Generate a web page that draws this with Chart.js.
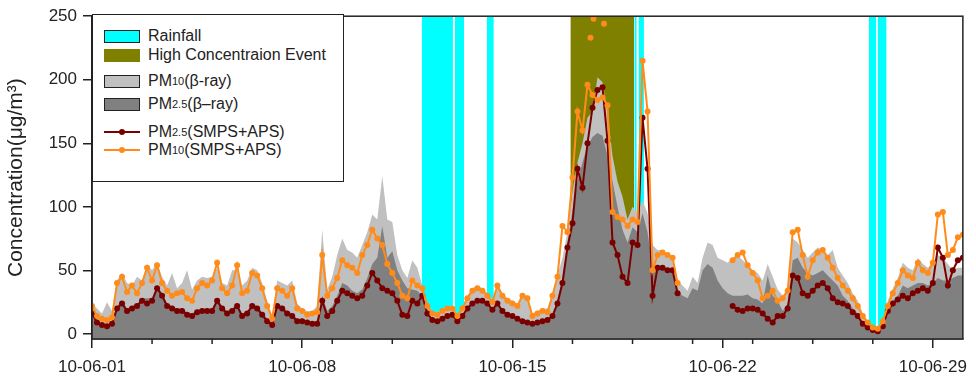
<!DOCTYPE html>
<html>
<head>
<meta charset="utf-8">
<script src="https://cdn.jsdelivr.net/npm/chart.js@4.4.0/dist/chart.umd.min.js"></script>
<style>
  body { margin: 0; background: #fff; }
  #wrap { position: relative; width: 976px; height: 378px; }
  #legend {
    position: absolute; left: 92px; top: 14px; width: 252px; height: 168px;
    box-sizing: border-box; border: 1.5px solid #222; background: #fff;
    font-family: "Liberation Sans", Arial, sans-serif; font-size: 16px; color: #222;
  }
  .item { position: absolute; left: 11px; height: 20px; display: flex; align-items: center; white-space: nowrap; }
  .sw { width: 36px; height: 13px; box-sizing: border-box; margin-right: 8px; }
  .ln { position: relative; width: 36px; height: 2px; margin-right: 8px; }
  .ln::after { content: ""; position: absolute; left: 15px; top: -2px; width: 6px; height: 6px; border-radius: 50%; background: inherit; }
  sub { font-size: 11px; vertical-align: -5px; line-height: 0; }
</style>
</head>
<body>
<div id="wrap">
  <canvas id="myChart" width="976" height="378"></canvas>
  <div id="legend">
    <div class="item" style="top:11px"><span class="sw" style="background:#00ffff;border:1px solid #222"></span>Rainfall</div>
    <div class="item" style="top:30px"><span class="sw" style="background:#808000"></span>High Concentraion Event</div>
    <div class="item" style="top:56px"><span class="sw" style="background:#c0c0c0;border:1px solid #222"></span>PM <sub>10</sub>(β-ray)</div>
    <div class="item" style="top:79px"><span class="sw" style="background:#808080;border:1px solid #222"></span>PM <sub>2.5</sub>(β–ray)</div>
    <div class="item" style="top:107px"><span class="ln" style="background:#7a0000"></span>PM <sub>2.5</sub>(SMPS+APS)</div>
    <div class="item" style="top:125px"><span class="ln" style="background:#ff8c1a"></span>PM <sub>10</sub>(SMPS+APS)</div>
  </div>
</div>
<script>
// values every 4 hours from 10-06-01 00:00, one row per day
const pm10Beta = [
  24, 20, 16, 25, 18, 42,
  48, 40, 38, 45, 42, 55,
  50, 56, 45, 38, 48, 36,
  40, 50, 35, 42, 45, 44,
  45, 52, 40, 38, 50, 50,
  38, 42, 52, 50, 40, 26,
  14, 42, 40, 38, 42, 24,
  20, 18, 18, 22, 82, 35,
  45, 62, 75, 66, 64, 60,
  70, 80, 94, 90, 124, 90,
  88, 62, 50, 44, 58, 52,
  38, 24, 18, 17, 20, 22,
  22, 15, 22, 30, 36, 38,
  36, 32, 27, 40, 32, 28,
  26, 24, 32, 30, 16, 18,
  20, 20, 32, 46, 60, 80,
  112, 135, 150, 170, 175, 202,
  198, 175, 140, 120, 108, 90,
  100, 95, 105, 95, 70, 66,
  66, 62, 58, 42, 38, 34,
  45, 40, 60, 72, 70, 60,
  58, 56, 60, 62, 58, 55,
  50, 48, 42, 55, 45, 35,
  30, 36, 75, 72, 66, 60,
  64, 68, 66, 62, 66, 52,
  46, 40, 32, 26, 16, 10,
  6, 5, 12, 26, 36, 44,
  56, 52, 50, 60, 55, 52,
  56, 62, 60, 55, 50, 52,
  52
];
const pm25Beta = [
  16, 10, 8, 7, 9, 22,
  26, 20, 22, 24, 28, 28,
  28, 38, 32, 24, 22, 20,
  20, 17, 16, 19, 20, 20,
  20, 28, 22, 18, 20, 24,
  16, 18, 24, 22, 17, 12,
  9, 24, 22, 18, 16, 12,
  12, 10, 10, 10, 30, 18,
  22, 30, 40, 38, 34, 32,
  35, 44, 55, 60, 85, 60,
  65, 50, 42, 36, 35, 34,
  30, 17, 12, 11, 13, 15,
  16, 11, 15, 21, 25, 27,
  27, 25, 20, 25, 19, 16,
  15, 13, 11, 10, 9, 10,
  11, 12, 15, 26, 45, 72,
  97, 120, 135, 148, 155, 158,
  156, 140, 120, 100, 82, 72,
  84, 80, 95, 80, 54, 52,
  52, 50, 48, 34, 30, 28,
  36, 34, 50, 55, 52, 42,
  36, 32, 30, 30, 30, 31,
  28, 27, 24, 46, 30, 26,
  18, 24, 58, 60, 52, 48,
  46, 48, 50, 46, 42, 38,
  30, 26, 20, 16, 9, 6,
  4, 3, 8, 20, 26, 30,
  38, 36, 38, 40, 40, 38,
  40, 44, 42, 42, 44, 46,
  46
];
const pm25Smps = [
  16, 9, 7, 6, 8, 20,
  24, 18, 20, 22, 26, 24,
  26, 36, 30, 22, 20, 18,
  18, 15, 14, 17, 18, 18,
  18, 26, 20, 16, 18, 22,
  14, 16, 22, 20, 15, 10,
  7, 22, 20, 16, 14, 10,
  10, 9, 8, 8, 26, 14,
  18, 26, 34, 32, 30, 28,
  30, 38, 48, 42, 36, 34,
  32, 26, 15, 14, 26, 24,
  30, 16, 11, 10, 12, 14,
  15, 10, 14, 20, 24, 26,
  26, 24, 19, 24, 18, 15,
  14, 12, 10, 9, 8, 9,
  10, 11, 14, 24, 40, 68,
  87, 130, 115, 150, 178, 192,
  194, 152, 72, 62, 45, 40,
  72, 70, 170, 130, 30, 52,
  52, 50, 50, 32, null, null,
  null, null, null, null, null, null,
  null, null, 22, 19, 18, 20,
  20, 19, 16, 12, 9, 14,
  14, 20, 46, 44, 32, 30,
  34, 38, 40, 36, 28, 25,
  24, 22, 17, 14, 8, 5,
  3, 2, 6, 18, 24, 27,
  30, 28, 32, 34, 36, 34,
  40, 68, 60, 38, 50, 58,
  60
];
const pm10Smps = [
  22, 14, 12, 11, 13, 40,
  45, 33, 38, 32, 40, 52,
  42, 54, 40, 34, 30, 32,
  33, 28, 26, 36, 40, 38,
  42, 56, 36, 32, 38, 54,
  32, 34, 48, 46, 36, 22,
  12, 36, 34, 30, 36, 20,
  18, 15, 16, 17, 62, 30,
  36, 44, 58, 54, 52, 48,
  62, 70, 82, 75, 70, 55,
  48, 40, 30, 28, 42, 38,
  36, 22, 16, 15, 18, 20,
  20, 14, 20, 28, 34, 36,
  34, 30, 25, 38, 30, 26,
  24, 22, 30, 28, 14, 16,
  18, 17, 30, 45, 85, 80,
  123, 175, 160, 196, 188, 184,
  186, 180, 96, 92, 90, 85,
  90, 88, 215, 175, 50, 62,
  64, 62, 60, 40, null, null,
  null, null, null, null, null, null,
  null, null, 58, 62, 64, 54,
  48, 42, 28, 30, 34, 26,
  28, 34, 80, 82, 62, 45,
  58, 64, 66, 60, 52, 44,
  38, 34, 28, 22, 14, 9,
  5, 4, 10, 22, 32, 40,
  50, 46, 44, 56, 50, 48,
  56, 94, 96, 62, 66, 76,
  78
];
// isolated PM10 readings at the top of the event
const pm10PeakDay = [16.6, 16.7, 17.05];
const pm10PeakVal = [233, 248, 244];

// shaded periods, in days after 10-06-01
const rainStart = [10.98, 12.08, 13.15, 18.06, 18.2, 25.87, 26.16];
const rainEnd = [12.02, 12.39, 13.38, 18.14, 18.38, 26.11, 26.46];
const eventStart = [15.93];
const eventEnd = [18.05];

const xMajor = [0, 7, 14, 21, 28];
const xLabels = ["10-06-01", "10-06-08", "10-06-15", "10-06-22", "10-06-29"];
const xMinor = [2, 4, 6, 8, 10, 12, 16, 18, 20, 22, 24, 26];
const yTicks = [0, 50, 100, 150, 200, 250];

function serie(vals) {
    return vals.map((v, i) => ({ x: i / 6, y: v }));
}

function bandas(starts, ends) {
    const pts = [];
    starts.forEach((s, i) => {
        pts.push({ x: s, y: 250 }, { x: ends[i], y: 250 }, { x: ends[i], y: null });
    });
    return pts;
}

const font = "'Liberation Sans', Arial, sans-serif";
const ink = "#222";

const marco = {
    id: "marco",
    afterDraw(chart) {
        const { ctx, chartArea: a } = chart;
        const x = chart.scales.x;
        ctx.save();
        ctx.strokeStyle = ink;
        ctx.lineWidth = 1.5;
        ctx.strokeRect(a.left, a.top, a.right - a.left, a.bottom - a.top);
        xMinor.forEach(v => {
            const px = x.getPixelForValue(v);
            ctx.beginPath();
            ctx.moveTo(px, a.bottom);
            ctx.lineTo(px, a.bottom + 5);
            ctx.stroke();
        });
        ctx.restore();
    }
};

const area = (label, data, color, order) => ({
    label, data, order,
    fill: "start",
    backgroundColor: color,
    borderColor: "rgba(0,0,0,0)",
    borderWidth: 0,
    pointRadius: 0,
    tension: 0
});

const linea = (label, data, color, order) => ({
    label, data, order,
    borderColor: color,
    backgroundColor: color,
    borderWidth: 2,
    pointRadius: 3,
    pointBorderWidth: 0,
    pointBackgroundColor: color,
    spanGaps: false,
    fill: false
});

const config = {
    type: "line",
    data: {
        datasets: [
            linea("PM10(SMPS+APS)", serie(pm10Smps), "#ff8c1a", 1),
            Object.assign(linea("PM10(SMPS+APS) peaks",
                pm10PeakDay.map((d, i) => ({ x: d, y: pm10PeakVal[i] })), "#ff8c1a", 1), { showLine: false }),
            linea("PM2.5(SMPS+APS)", serie(pm25Smps), "#7a0000", 2),
            area("PM2.5(β-ray)", serie(pm25Beta), "#808080", 3),
            area("PM10(β-ray)", serie(pm10Beta), "#c0c0c0", 4),
            area("High Concentraion Event", bandas(eventStart, eventEnd), "#808000", 5),
            area("Rainfall", bandas(rainStart, rainEnd), "#00ffff", 6)
        ]
    },
    options: {
        responsive: false,
        animation: false,
        devicePixelRatio: 1,
        layout: { padding: { top: 14, right: 4, left: 0, bottom: 0 } },
        plugins: { legend: { display: false }, tooltip: { enabled: false } },
        scales: {
            x: {
                type: "linear",
                min: 0,
                max: 29,
                afterBuildTicks: s => { s.ticks = xMajor.map(v => ({ value: v })); },
                afterFit: s => { s.height = 39; },
                ticks: {
                    callback: (v, i) => xLabels[i],
                    font: { family: font, size: 17 },
                    color: ink,
                    padding: 9,
                    maxRotation: 0,
                    autoSkip: false
                },
                grid: { drawOnChartArea: false, tickLength: 9, color: ink, lineWidth: 1.5 },
                border: { color: ink, width: 1.5 }
            },
            y: {
                min: -4,
                max: 250,
                afterBuildTicks: s => { s.ticks = yTicks.map(v => ({ value: v })); },
                afterFit: s => { s.width = 92; },
                ticks: {
                    font: { family: font, size: 17 },
                    color: ink,
                    padding: 6
                },
                grid: { drawOnChartArea: false, tickLength: 9, color: ink, lineWidth: 1.5 },
                border: { color: ink, width: 1.5 },
                title: {
                    display: true,
                    text: "Concentration(μg/m³)",
                    font: { family: font, size: 21 },
                    color: ink,
                    padding: { top: 4, bottom: 0 }
                }
            }
        }
    },
    plugins: [marco]
};

new Chart(document.getElementById("myChart"), config);
</script>
</body>
</html>
